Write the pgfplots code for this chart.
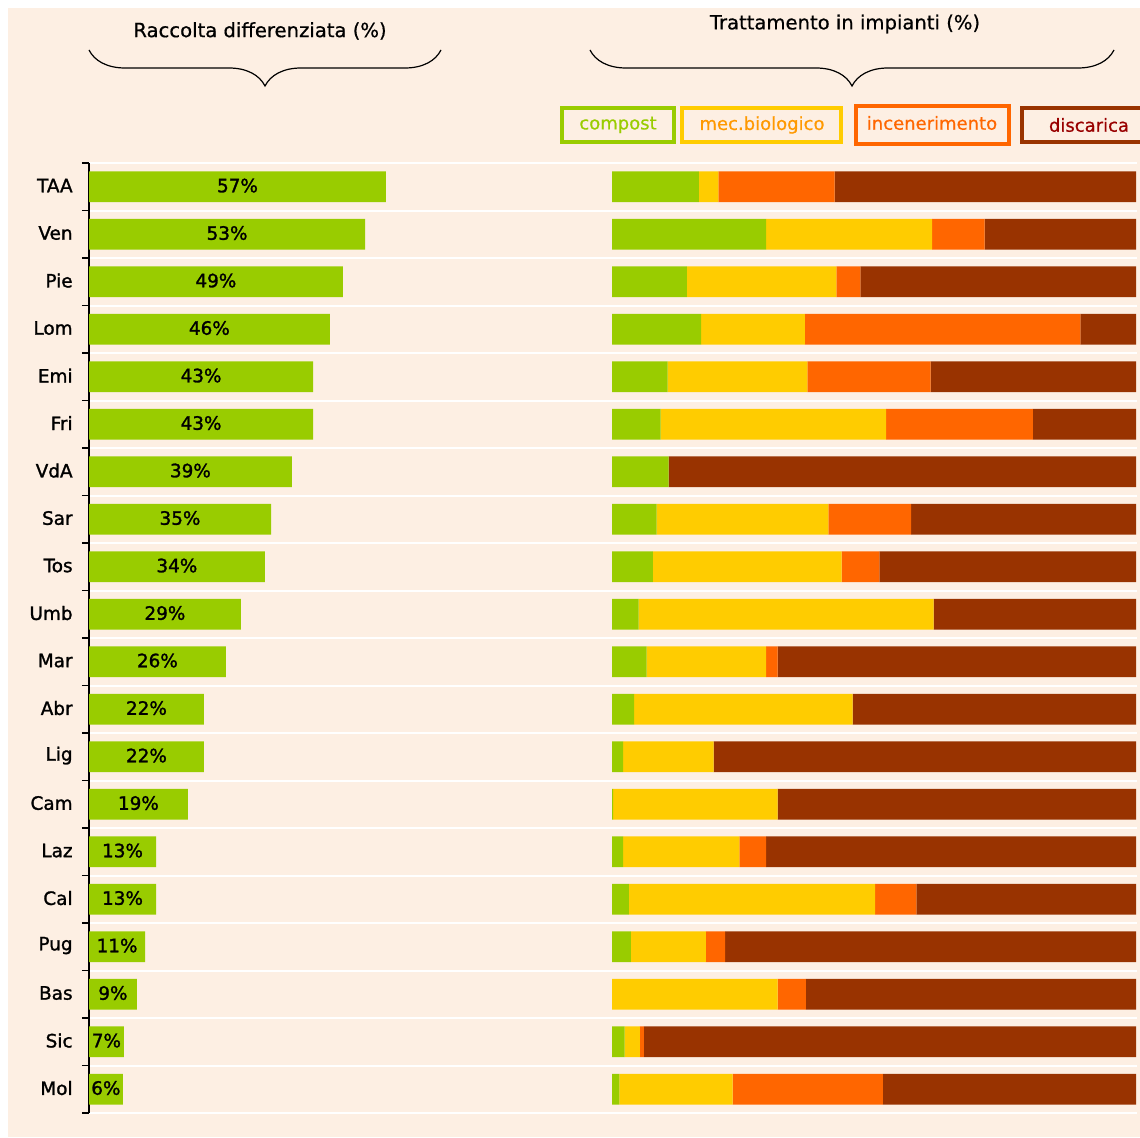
\documentclass[border=0pt]{standalone}
\usepackage{fontspec}
\setmainfont{DejaVu Sans}
\newfontfamily\hb{DejaVu Sans}[FakeBold=1.4]
\newfontfamily\hl{DejaVu Sans}[FakeBold=0.6]
\usepackage{pgfplots}
\usepackage{pgfplotstable}
\pgfplotsset{compat=1.18}
\usetikzlibrary{decorations.pathreplacing}
\definecolor{bg}{HTML}{FDEFE3}
\definecolor{cgreen}{HTML}{99CC00}
\definecolor{cyellow}{HTML}{FFCC00}
\definecolor{corange}{HTML}{FF6600}
\definecolor{cbrown}{HTML}{993300}
\definecolor{ctxtmec}{HTML}{FF9900}
\definecolor{ctxtdis}{HTML}{990000}
\newcommand{\fs}{\hl\fontsize{9}{11}\selectfont}
\newcommand{\fb}{\hb\fontsize{9.2}{11}\selectfont}
\newcommand{\ft}{\hl\fontsize{9.8}{12}\selectfont}

\pgfplotstableread{
idx v lab
0 57.1 57
1 53.1 53
2 48.8 49
3 46.3 46
4 43.1 43
5 43.1 43
6 39.0 39
7 35.0 35
8 33.8 34
9 29.2 29
10 26.3 26
11 22.1 22
12 22.1 22
13 19.0 19
14 12.9 13
15 12.9 13
16 10.8 11
17 9.2 9
18 6.7 7
19 6.5 6
}\rd

\pgfplotstableread{
idx comp mec inc disc
0 16.6 3.7 22.2 57.5
1 29.4 31.7 10.0 28.9
2 14.3 28.5 4.6 52.6
3 17.0 19.8 52.6 10.6
4 10.6 26.7 23.5 39.2
5 9.3 43.0 28.0 19.7
6 10.8 0 0 89.2
7 8.5 32.8 15.8 42.9
8 7.8 36.0 7.2 49.0
9 5.1 56.3 0 38.6
10 6.6 22.8 2.2 68.4
11 4.2 41.7 0 54.1
12 2.1 17.3 0 80.6
13 0.2 31.4 0 68.4
14 2.1 22.2 5.1 70.6
15 3.2 47.0 7.9 41.9
16 3.6 14.3 3.7 78.4
17 0 31.6 5.4 63.0
18 2.4 2.9 0.8 93.9
19 1.4 21.6 28.7 48.3
}\tr

\begin{document}
\begin{tikzpicture}
\fill[white] (0,0) rectangle (570pt,568.5pt);
\fill[bg] (4pt,0) rectangle (570pt,564.5pt);

% titles and braces
\node[font=\ft] at (130pt,553pt) {Raccolta differenziata (\%)};
\node[font=\ft] at (422.5pt,556.5pt) {Trattamento in impianti (\%)};
\draw[line width=0.6pt, decorate, decoration={brace, amplitude=18pt}] (220.5pt,543.5pt) -- (44.5pt,543.5pt);
\draw[line width=0.6pt, decorate, decoration={brace, amplitude=18pt}] (557pt,543.5pt) -- (295pt,543.5pt);

% legend boxes
\draw[cgreen, line width=2pt, fill=bg] (281pt,497.5pt) rectangle (337pt,514.5pt);
\node[font=\fs, text=cgreen] at (309pt,506pt) {compost};
\draw[cyellow, line width=2pt, fill=bg] (341pt,497.5pt) rectangle (420.5pt,514.5pt);
\node[font=\fs, text=ctxtmec] at (381pt,506pt) {mec.biologico};
\draw[corange, line width=2pt, fill=bg] (428pt,496.5pt) rectangle (504.5pt,515.5pt);
\node[font=\fs, text=corange] at (466pt,507pt) {incenerimento};
\draw[cbrown, line width=2pt, fill=bg] (511pt,497.5pt) rectangle (573pt,514.5pt);
\node[font=\fs, text=ctxtdis] at (544.5pt,506pt) {discarica};

% left axis
\begin{axis}[
  at={(44.5pt,12pt)}, anchor=south west,
  scale only axis, width=524pt, height=475pt,
  xmin=0, xmax=201.5,
  ymin=-0.5, ymax=19.5, y dir=reverse,
  axis x line=none, axis y line*=left,
  axis line style={black, line width=0.7pt},
  ytick={0,...,19},
  yticklabels={TAA,Ven,Pie,Lom,Emi,Fri,VdA,Sar,Tos,Umb,Mar,Abr,Lig,Cam,Laz,Cal,Pug,Bas,Sic,Mol},
  yticklabel style={font=\fb, anchor=east, inner sep=0pt, xshift=-8pt, yshift=0.6pt},
  major tick length=0pt,
  minor ytick={-0.5,0.5,...,19.5},
  minor tick length=3.5pt, tick align=outside,
  minor tick style={black, line width=0.6pt},
  yminorgrids, minor grid style={white, line width=1pt},
]
\addplot[xbar, bar shift=0pt, bar width=0.65, fill=cgreen, draw=none] table[x=v, y=idx] {\rd};
\addplot[draw=none, mark=none, nodes near coords={\pgfplotspointmeta\%},
  point meta=explicit symbolic,
  every node near coord/.style={anchor=center, font=\fb, inner sep=0pt, yshift=0.6pt}]
  table[x expr=\thisrow{v}/2, y=idx, meta=lab] {\rd};
\end{axis}

% right axis
\begin{axis}[
  at={(306pt,12pt)}, anchor=south west,
  scale only axis, width=262pt, height=475pt,
  xmin=0, xmax=100,
  ymin=-0.5, ymax=19.5, y dir=reverse,
  hide axis,
  xbar stacked, bar width=0.65,
]
\addplot[fill=cgreen, draw=none] table[x=comp, y=idx] {\tr};
\addplot[fill=cyellow, draw=none] table[x=mec, y=idx] {\tr};
\addplot[fill=corange, draw=none] table[x=inc, y=idx] {\tr};
\addplot[fill=cbrown, draw=none] table[x=disc, y=idx] {\tr};
\end{axis}

\pgfresetboundingbox
\path (0,0) rectangle (570pt,568.5pt);
\end{tikzpicture}
\end{document}
